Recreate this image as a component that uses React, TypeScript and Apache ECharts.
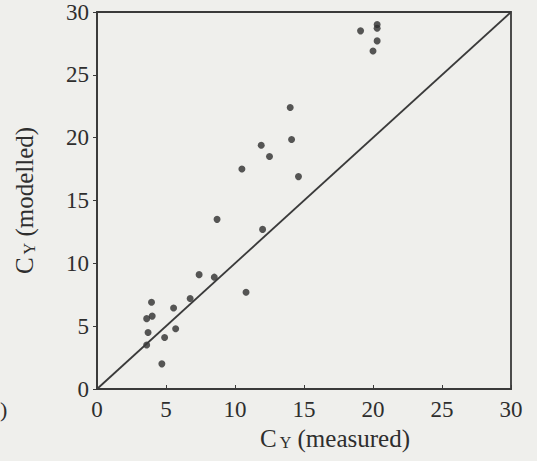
import React, { useEffect, useRef } from "react";
import * as echarts from "echarts";

const xMeasured = [19.1, 20.3, 20.3, 20.3, 20.0, 14.0, 14.1, 11.9, 12.5, 10.5, 14.6, 8.7, 12.0, 7.4, 8.5, 10.8, 6.75, 5.55, 3.95, 4.0, 3.6, 3.7, 5.7, 4.9, 3.6, 4.7];
const yModelled = [28.5, 29.0, 28.7, 27.7, 26.9, 22.4, 19.85, 19.4, 18.5, 17.5, 16.9, 13.5, 12.7, 9.1, 8.9, 7.7, 7.2, 6.45, 6.9, 5.8, 5.6, 4.5, 4.8, 4.1, 3.5, 2.0];
const lineX = [0, 30];
const lineY = [0, 30];
const tickValues = [0, 5, 10, 15, 20, 25, 30];

export default function App() {
  const ref = useRef<HTMLDivElement>(null);
  useEffect(() => {
    if (!ref.current) return;
    const chart = echarts.init(ref.current, undefined, { renderer: "svg" });
    const font = "'Liberation Serif', 'DejaVu Serif', serif";
    const ink = "#2e2e2e";
    const nameRich = {
      c: { fontSize: 25, fontFamily: font, color: ink, padding: [0, 3, 0, 0] },
      s: { fontSize: 16, fontFamily: font, color: ink, padding: [9, 0, 0, 0] },
      t: { fontSize: 25, fontFamily: font, color: ink },
    };
    chart.setOption({
      animation: false,
      backgroundColor: "#efefec",
      grid: {
        left: 97,
        right: 26,
        top: 12,
        bottom: 72,
        show: true,
        borderColor: "#3a3a3a",
        borderWidth: 1.8,
        backgroundColor: "transparent",
      },
      xAxis: {
        type: "value",
        min: 0,
        max: 30,
        interval: 5,
        name: "{c|C}{s|Y}{t| (measured)}",
        nameLocation: "middle",
        nameGap: 35,
        nameTextStyle: { rich: nameRich, padding: [0, 0, 0, 62] },
        axisLine: { show: true, lineStyle: { color: "#3a3a3a", width: 1.8 } },
        axisTick: { show: true, inside: true, length: 4, lineStyle: { color: "#3a3a3a" } },
        axisLabel: {
          fontFamily: font,
          fontSize: 23,
          color: ink,
          margin: 9,
          formatter: (v: number) => (tickValues.includes(v) ? String(v) : ""),
        },
        splitLine: { show: false },
      },
      yAxis: {
        type: "value",
        min: 0,
        max: 30,
        interval: 5,
        name: "{c|C}{s|Y}{t| (modelled)}",
        nameLocation: "middle",
        nameGap: 60,
        nameTextStyle: { rich: nameRich },
        axisLine: { show: true, lineStyle: { color: "#3a3a3a", width: 1.8 } },
        axisTick: { show: true, inside: false, length: 4, lineStyle: { color: "#3a3a3a" } },
        axisLabel: {
          fontFamily: font,
          fontSize: 23,
          color: ink,
          margin: 8,
        },
        splitLine: { show: false },
      },
      series: [
        {
          type: "line",
          data: lineX.map((x, i) => [x, lineY[i]]),
          showSymbol: false,
          symbol: "none",
          lineStyle: { color: "#3a3a3a", width: 1.8 },
          silent: true,
        },
        {
          type: "scatter",
          data: xMeasured.map((x, i) => [x, yModelled[i]]),
          symbol: "circle",
          symbolSize: 7,
          itemStyle: { color: "#2e2e2e" },
        },
      ],
      graphic: [
        {
          type: "text",
          left: 0,
          top: 398,
          style: { text: ")", fontFamily: font, fontSize: 22, fill: ink },
        },
      ],
    });
    return () => chart.dispose();
  }, []);
  return (
    <div
      ref={ref}
      style={{ position: "fixed", left: 0, top: 0, width: 537, height: 461 }}
    />
  );
}
